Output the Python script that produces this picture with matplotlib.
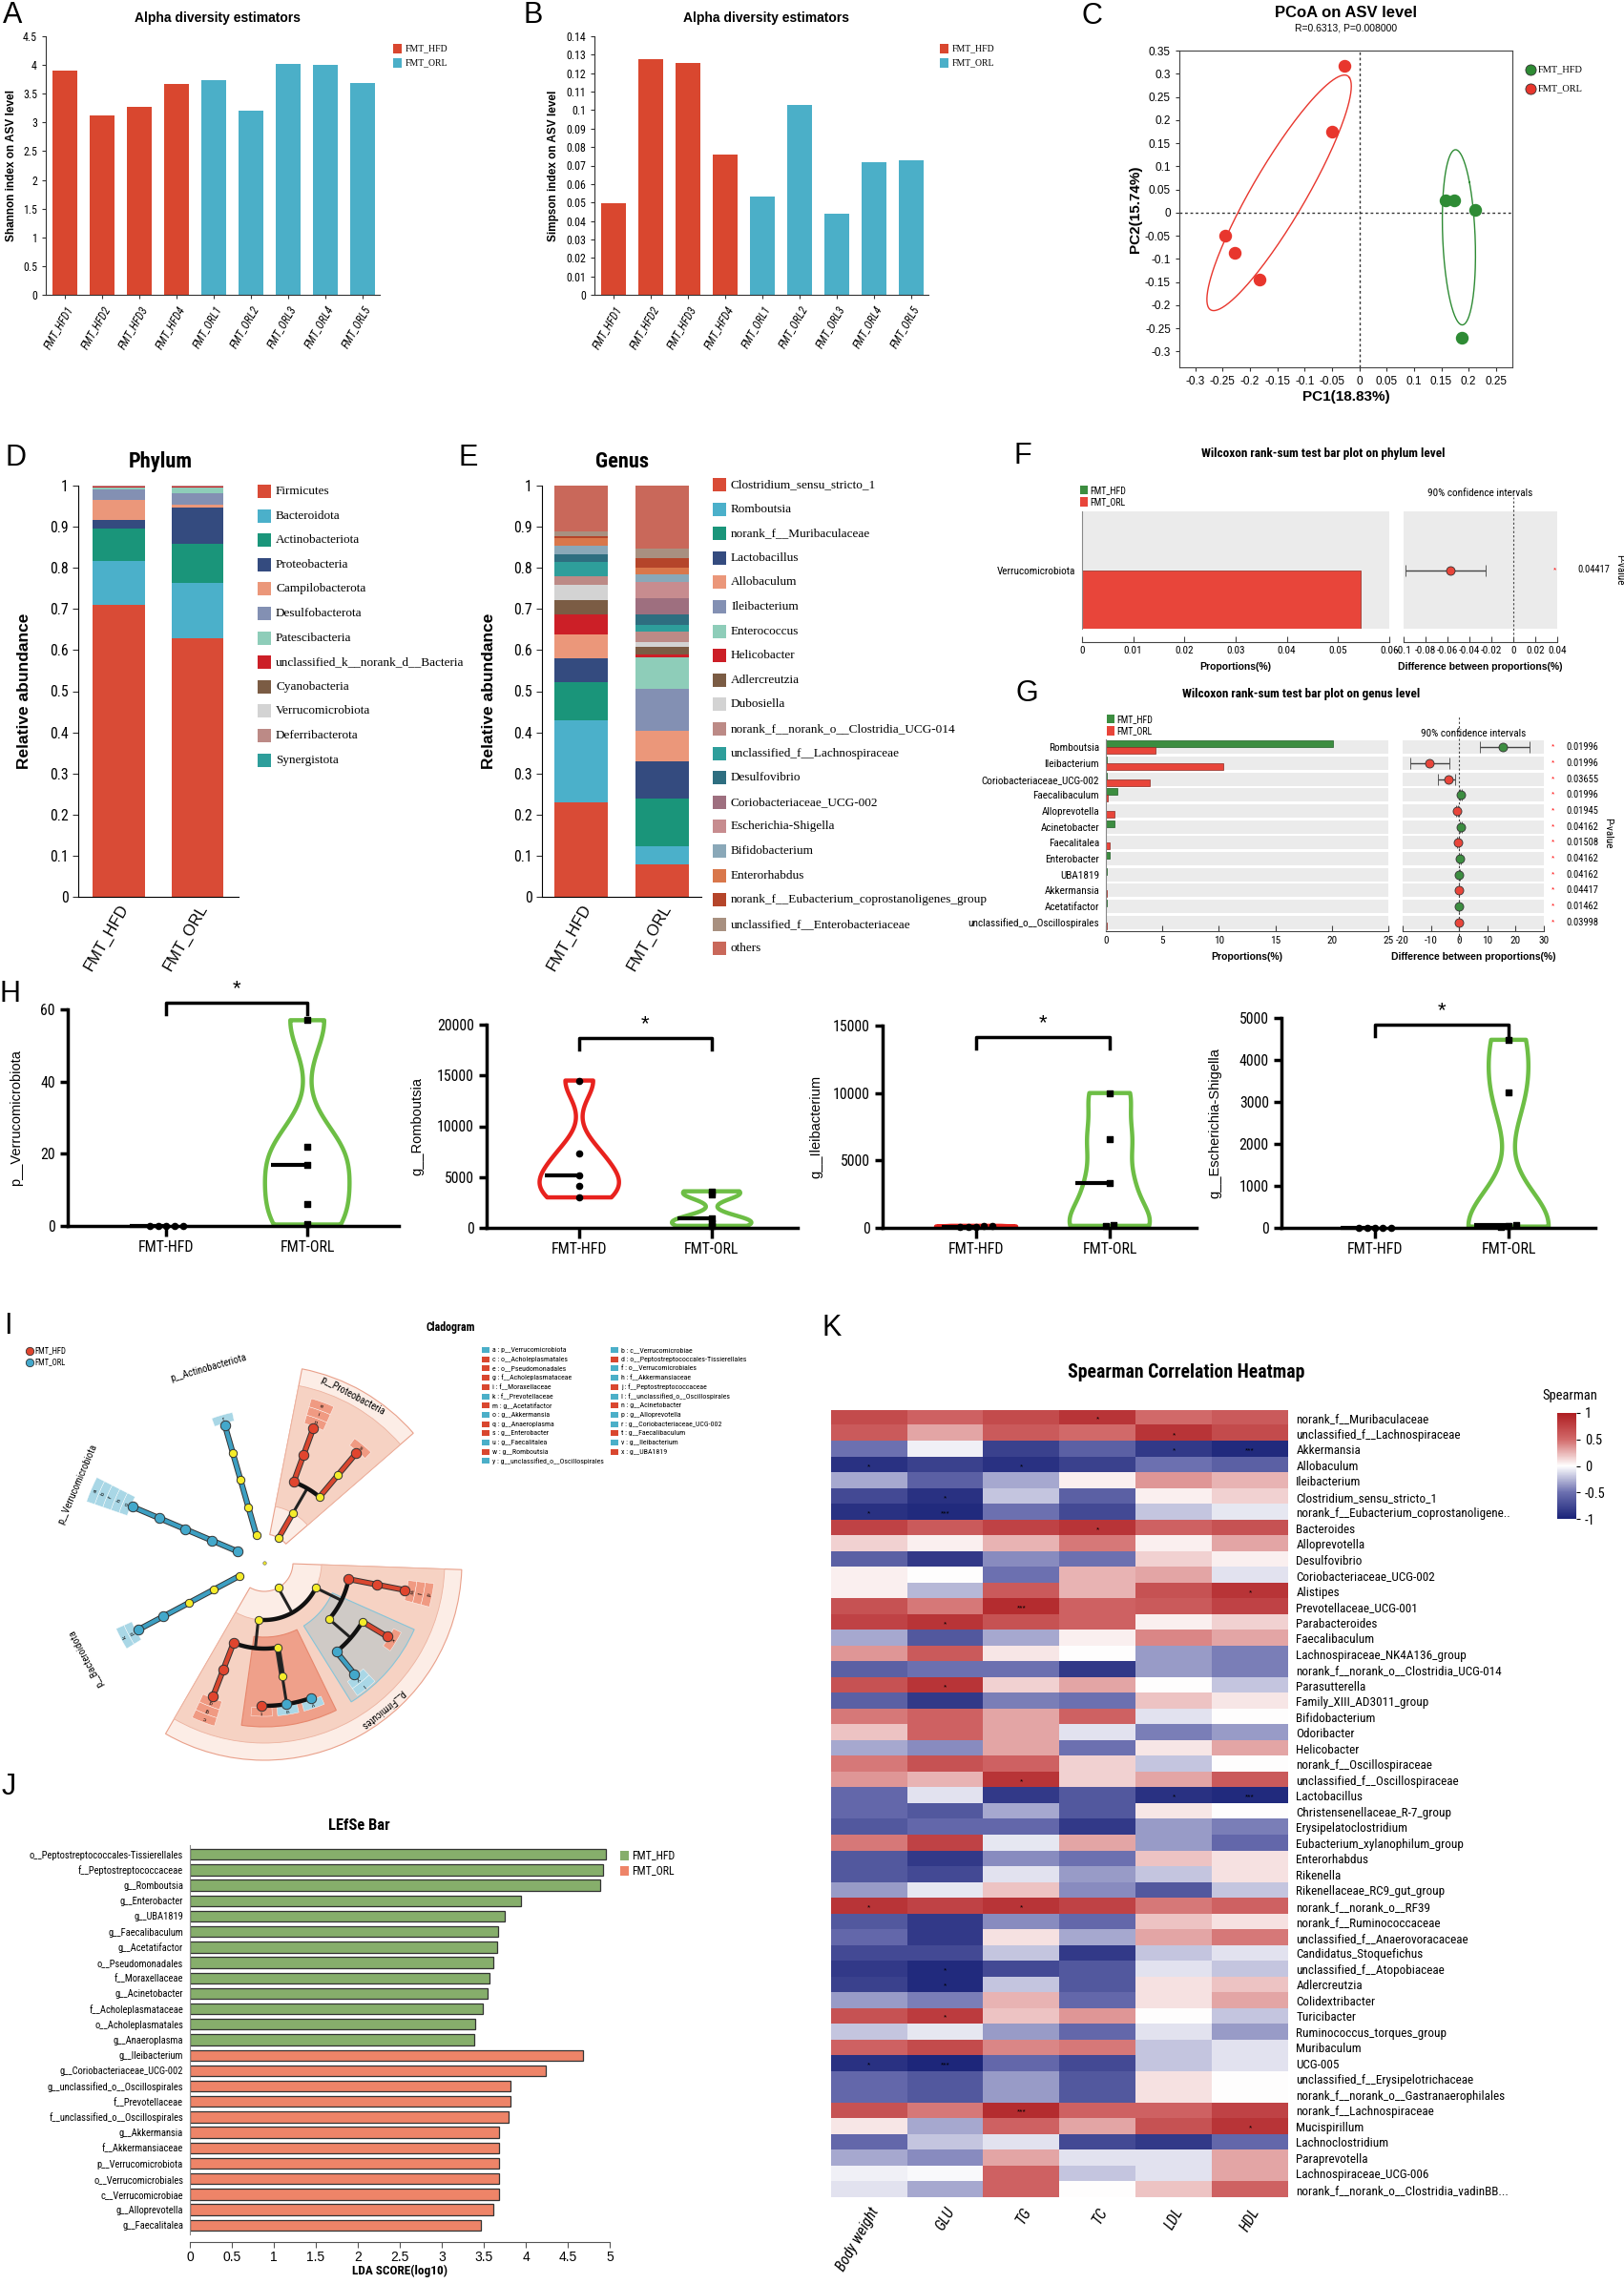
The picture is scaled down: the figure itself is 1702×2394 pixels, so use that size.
import numpy as np
import matplotlib
matplotlib.use("Agg")
import matplotlib.pyplot as plt
from matplotlib import font_manager, transforms
from matplotlib.patches import Rectangle, Wedge
from matplotlib.colors import LinearSegmentedColormap
from matplotlib.lines import Line2D
from matplotlib.ticker import FuncFormatter

# ---------------- fonts ----------------
flist = font_manager.fontManager.ttflist
fnames = {f.name for f in flist}
SANS = "Liberation Sans" if "Liberation Sans" in fnames else "DejaVu Sans"
SERIF = "Liberation Serif" if "Liberation Serif" in fnames else "DejaVu Serif"
if "Liberation Sans Narrow" in fnames:
    NARROW, NSTRETCH, NSCALE = "Liberation Sans Narrow", "normal", 1.0
elif "Roboto Condensed" in fnames:
    NARROW, NSTRETCH, NSCALE = "Roboto Condensed", "normal", 0.95
elif "DejaVu Sans Condensed" in fnames:
    NARROW, NSTRETCH, NSCALE = "DejaVu Sans Condensed", "normal", 0.88
elif any(f.name == "DejaVu Sans" and "condensed" in str(f.stretch) for f in flist):
    NARROW, NSTRETCH, NSCALE = "DejaVu Sans", "condensed", 0.88
else:
    NARROW, NSTRETCH, NSCALE = SANS, "normal", 0.84
plt.rcParams["font.family"] = SANS
plt.rcParams["axes.unicode_minus"] = False


def nk(size):
    return dict(family=NARROW, stretch=NSTRETCH, fontsize=size * NSCALE)


def narrow_labels(texts, size):
    for t in texts:
        t.set_family(NARROW)
        t.set_stretch(NSTRETCH)
        t.set_fontsize(size * NSCALE)


# ---------------- data ----------------
SAMPLES = ["FMT_HFD1", "FMT_HFD2", "FMT_HFD3", "FMT_HFD4",
           "FMT_ORL1", "FMT_ORL2", "FMT_ORL3", "FMT_ORL4", "FMT_ORL5"]
SHANNON = [3.91, 3.12, 3.27, 3.67, 3.74, 3.20, 4.02, 4.01, 3.69]
SIMPSON = [0.0495, 0.1275, 0.1256, 0.0758, 0.053, 0.103, 0.044, 0.072, 0.073]

PCOA_HFD_X = [0.157, 0.173, 0.212, 0.187]
PCOA_HFD_Y = [0.027, 0.026, 0.005, -0.271]
PCOA_ORL_X = [-0.027, -0.050, -0.245, -0.228, -0.183]
PCOA_ORL_Y = [0.318, 0.175, -0.049, -0.086, -0.144]

PHYLA = ["Firmicutes", "Bacteroidota", "Actinobacteriota", "Proteobacteria",
         "Campilobacterota", "Desulfobacterota", "Patescibacteria",
         "unclassified_k__norank_d__Bacteria", "Cyanobacteria",
         "Verrucomicrobiota", "Deferribacterota", "Synergistota"]
PHYLA_HFD = [0.710, 0.107, 0.079, 0.020, 0.049, 0.025, 0.006, 0.001, 0.001, 0.0, 0.001, 0.001]
PHYLA_ORL = [0.629, 0.134, 0.095, 0.089, 0.006, 0.028, 0.015, 0.001, 0.001, 0.0005, 0.001, 0.0005]

GENERA = ["Clostridium_sensu_stricto_1", "Romboutsia", "norank_f__Muribaculaceae",
          "Lactobacillus", "Allobaculum", "Ileibacterium", "Enterococcus",
          "Helicobacter", "Adlercreutzia", "Dubosiella",
          "norank_f__norank_o__Clostridia_UCG-014", "unclassified_f__Lachnospiraceae",
          "Desulfovibrio", "Coriobacteriaceae_UCG-002", "Escherichia-Shigella",
          "Bifidobacterium", "Enterorhabdus",
          "norank_f__Eubacterium_coprostanoligenes_group",
          "unclassified_f__Enterobacteriaceae", "others"]
GENERA_HFD = [0.229, 0.201, 0.091, 0.059, 0.058, 0.0, 0.0, 0.049, 0.034, 0.037,
              0.022, 0.034, 0.020, 0.0, 0.0, 0.020, 0.018, 0.006, 0.011, 0.111]
GENERA_ORL = [0.080, 0.043, 0.115, 0.092, 0.073, 0.103, 0.076, 0.007, 0.019, 0.011,
              0.026, 0.016, 0.026, 0.039, 0.039, 0.020, 0.015, 0.024, 0.023, 0.153]

F_TAXA = ["Verrucomicrobiota"]
F_HFD = [0.0]
F_ORL = [0.0545]
F_DIFF = [-0.0577]
F_LO = [-0.098]
F_HI = [-0.025]
F_PVAL = ["0.04417"]

G_TAXA = ["Romboutsia", "Ileibacterium", "Coriobacteriaceae_UCG-002", "Faecalibaculum",
          "Alloprevotella", "Acinetobacter", "Faecalitalea", "Enterobacter", "UBA1819",
          "Akkermansia", "Acetatifactor", "unclassified_o__Oscillospirales"]
G_HFD = [20.1, 0.05, 0.05, 1.0, 0.0, 0.72, 0.0, 0.3, 0.1, 0.0, 0.05, 0.0]
G_ORL = [4.4, 10.35, 3.9, 0.2, 0.73, 0.02, 0.31, 0.0, 0.0, 0.06, 0.0, 0.05]
G_DIFF = [15.6, -10.4, -3.9, 0.7, -0.8, 0.7, -0.4, 0.3, 0.1, -0.06, 0.05, -0.05]
G_LO = [7.3, -17.3, -7.5, 0.4, -1.2, 0.4, -0.7, 0.1, 0.0, -0.1, 0.0, -0.1]
G_HI = [24.9, -3.5, -1.4, 1.0, -0.4, 1.0, -0.1, 0.5, 0.2, 0.0, 0.1, 0.0]
G_PVAL = ["0.01996", "0.01996", "0.03655", "0.01996", "0.01945", "0.04162",
          "0.01508", "0.04162", "0.04162", "0.04417", "0.01462", "0.03998"]

VIOLIN_LABELS = ["p__Verrucomicrobiota", "g__Romboutsia", "g__Ileibacterium", "g__Escherichia-Shigella"]
VERRU_HFD = [0, 0, 0, 0, 0]
VERRU_ORL = [57, 22, 17, 6, 0.4]
ROMB_HFD = [14500, 7300, 5200, 4100, 3000]
ROMB_ORL = [3600, 3300, 900, 500, 200]
ILEI_HFD = [40, 80, 100, 120, 150]
ILEI_ORL = [10000, 6600, 3300, 200, 150]
ESCH_HFD = [0, 0, 0, 0, 0]
ESCH_ORL = [4480, 3230, 70, 50, 30]
GROUP_TICKS = ["FMT-HFD", "FMT-ORL"]

LEFSE_CODES = [
    ("a", "p__Verrucomicrobiota", "ORL"), ("b", "c__Verrucomicrobiae", "ORL"),
    ("c", "o__Acholeplasmatales", "HFD"), ("d", "o__Peptostreptococcales-Tissierellales", "HFD"),
    ("e", "o__Pseudomonadales", "HFD"), ("f", "o__Verrucomicrobiales", "ORL"),
    ("g", "f__Acholeplasmataceae", "HFD"), ("h", "f__Akkermansiaceae", "ORL"),
    ("i", "f__Moraxellaceae", "HFD"), ("j", "f__Peptostreptococcaceae", "HFD"),
    ("k", "f__Prevotellaceae", "ORL"), ("l", "f__unclassified_o__Oscillospirales", "ORL"),
    ("m", "g__Acetatifactor", "HFD"), ("n", "g__Acinetobacter", "HFD"),
    ("o", "g__Akkermansia", "ORL"), ("p", "g__Alloprevotella", "ORL"),
    ("q", "g__Anaeroplasma", "HFD"), ("r", "g__Coriobacteriaceae_UCG-002", "ORL"),
    ("s", "g__Enterobacter", "HFD"), ("t", "g__Faecalibaculum", "HFD"),
    ("u", "g__Faecalitalea", "ORL"), ("v", "g__Ileibacterium", "ORL"),
    ("w", "g__Romboutsia", "HFD"), ("x", "g__UBA1819", "HFD"),
    ("y", "g__unclassified_o__Oscillospirales", "ORL"),
]
CLADE_TREE = {
    "p__Verrucomicrobiota": {"c__Verrucomicrobiae": {"o__Verrucomicrobiales": {
        "f__Akkermansiaceae": {"g__Akkermansia": {}}}}},
    "p__Actinobacteriota": {"c__Coriobacteriia": {"o__Coriobacteriales": {
        "f__Coriobacteriaceae": {"g__Coriobacteriaceae_UCG-002": {}}}}},
    "p__Proteobacteria": {"c__Gammaproteobacteria": {
        "o__Pseudomonadales": {"f__Moraxellaceae": {"g__Acinetobacter": {}}},
        "o__Enterobacterales": {"f__Enterobacteriaceae": {"g__Enterobacter": {}}}}},
    "p__Firmicutes": {
        "c__Clostridia": {
            "o__Peptostreptococcales-Tissierellales": {"f__Peptostreptococcaceae": {"g__Romboutsia": {}}},
            "o__Oscillospirales": {"f__Ruminococcaceae": {"g__UBA1819": {}},
                                   "f__unclassified_o__Oscillospirales": {"g__unclassified_o__Oscillospirales": {}}}},
        "c__Bacilli": {
            "o__Erysipelotrichales": {"f__Erysipelotrichaceae": {
                "g__Ileibacterium": {}, "g__Faecalitalea": {}, "g__Faecalibaculum": {}}},
            "o__Acholeplasmatales": {"f__Acholeplasmataceae": {"g__Anaeroplasma": {}}}}},
    "p__Bacteroidota": {"c__Bacteroidia": {"o__Bacteroidales": {
        "f__Prevotellaceae": {"g__Alloprevotella": {}}}}},
}

LEFSE_HFD_TAXA = ["o__Peptostreptococcales-Tissierellales", "f__Peptostreptococcaceae", "g__Romboutsia",
                  "g__Enterobacter", "g__UBA1819", "g__Faecalibaculum", "g__Acetatifactor",
                  "o__Pseudomonadales", "f__Moraxellaceae", "g__Acinetobacter",
                  "f__Acholeplasmataceae", "o__Acholeplasmatales", "g__Anaeroplasma"]
LEFSE_HFD_LDA = [4.95, 4.92, 4.89, 3.94, 3.75, 3.67, 3.66, 3.61, 3.57, 3.55, 3.49, 3.40, 3.39]
LEFSE_ORL_TAXA = ["g__Ileibacterium", "g__Coriobacteriaceae_UCG-002", "g__unclassified_o__Oscillospirales",
                  "f__Prevotellaceae", "f__unclassified_o__Oscillospirales", "g__Akkermansia",
                  "f__Akkermansiaceae", "p__Verrucomicrobiota", "o__Verrucomicrobiales",
                  "c__Verrucomicrobiae", "g__Alloprevotella", "g__Faecalitalea"]
LEFSE_ORL_LDA = [4.68, 4.24, 3.82, 3.82, 3.79, 3.68, 3.68, 3.68, 3.68, 3.68, 3.61, 3.47]

HEAT_VARS = ["Body weight", "GLU", "TG", "TC", "LDL", "HDL"]
HEAT_TAXA = ["norank_f__Muribaculaceae", "unclassified_f__Lachnospiraceae", "Akkermansia", "Allobaculum",
             "Ileibacterium", "Clostridium_sensu_stricto_1", "norank_f__Eubacterium_coprostanoligene..",
             "Bacteroides", "Alloprevotella", "Desulfovibrio", "Coriobacteriaceae_UCG-002", "Alistipes",
             "Prevotellaceae_UCG-001", "Parabacteroides", "Faecalibaculum", "Lachnospiraceae_NK4A136_group",
             "norank_f__norank_o__Clostridia_UCG-014", "Parasutterella", "Family_XIII_AD3011_group",
             "Bifidobacterium", "Odoribacter", "Helicobacter", "norank_f__Oscillospiraceae",
             "unclassified_f__Oscillospiraceae", "Lactobacillus", "Christensenellaceae_R-7_group",
             "Erysipelatoclostridium", "Eubacterium_xylanophilum_group", "Enterorhabdus", "Rikenella",
             "Rikenellaceae_RC9_gut_group", "norank_f__norank_o__RF39", "norank_f__Ruminococcaceae",
             "unclassified_f__Anaerovoracaceae", "Candidatus_Stoquefichus", "unclassified_f__Atopobiaceae",
             "Adlercreutzia", "Colidextribacter", "Turicibacter", "Ruminococcus_torques_group",
             "Muribaculum", "UCG-005", "unclassified_f__Erysipelotrichaceae",
             "norank_f__norank_o__Gastranaerophilales", "norank_f__Lachnospiraceae", "Mucispirillum",
             "Lachnoclostridium", "Paraprevotella", "Lachnospiraceae_UCG-006",
             "norank_f__norank_o__Clostridia_vadinBB..."]
HEAT_RHO = [
    [0.70, 0.55, 0.70, 0.85, 0.50, 0.60],
    [0.60, 0.30, 0.60, 0.50, 0.85, 0.70],
    [-0.50, -0.05, -0.80, -0.60, -0.85, -0.95],
    [-0.90, -0.80, -0.90, -0.80, -0.50, -0.60],
    [-0.30, -0.60, -0.30, 0.05, 0.35, 0.25],
    [-0.75, -0.90, -0.20, -0.60, 0.05, 0.15],
    [-0.90, -0.95, -0.50, -0.75, -0.20, -0.08],
    [0.75, 0.60, 0.75, 0.85, 0.55, 0.65],
    [0.15, 0.05, 0.25, 0.45, 0.05, 0.30],
    [-0.60, -0.85, -0.40, -0.50, 0.15, 0.05],
    [0.05, 0.00, -0.50, 0.25, 0.30, -0.10],
    [0.05, -0.25, 0.60, 0.25, 0.65, 0.85],
    [0.65, 0.45, 0.90, 0.55, 0.60, 0.75],
    [0.75, 0.85, 0.65, 0.55, 0.05, 0.15],
    [-0.30, -0.65, -0.30, 0.05, 0.40, 0.30],
    [0.35, 0.60, 0.08, 0.00, -0.35, -0.45],
    [-0.60, -0.50, -0.50, -0.85, -0.35, -0.45],
    [0.65, 0.85, 0.15, 0.30, 0.00, -0.20],
    [-0.60, -0.85, -0.45, -0.50, 0.20, 0.08],
    [0.45, 0.55, 0.30, 0.55, -0.10, 0.00],
    [0.20, 0.55, 0.30, -0.10, -0.45, -0.35],
    [-0.30, -0.40, 0.30, -0.50, 0.08, 0.30],
    [0.45, 0.65, 0.55, 0.15, -0.20, 0.00],
    [0.35, 0.25, 0.85, 0.15, 0.30, 0.60],
    [-0.55, -0.10, -0.85, -0.65, -0.90, -0.95],
    [-0.55, -0.65, -0.30, -0.65, 0.08, 0.00],
    [-0.65, -0.55, -0.55, -0.85, -0.35, -0.45],
    [0.45, 0.75, -0.08, 0.30, -0.35, -0.55],
    [-0.65, -0.85, -0.40, -0.50, 0.20, 0.10],
    [-0.65, -0.75, -0.10, -0.35, -0.20, 0.10],
    [-0.35, -0.08, 0.20, -0.40, -0.65, -0.20],
    [0.85, 0.75, 0.85, 0.75, 0.45, 0.55],
    [-0.65, -0.85, -0.40, -0.55, 0.20, 0.10],
    [-0.55, -0.85, 0.10, -0.30, 0.30, 0.45],
    [-0.75, -0.75, -0.20, -0.85, -0.20, -0.10],
    [-0.85, -0.95, -0.75, -0.65, -0.10, -0.20],
    [-0.80, -0.95, -0.20, -0.65, 0.10, 0.20],
    [-0.35, -0.45, 0.25, -0.55, 0.10, 0.30],
    [0.65, 0.80, 0.20, 0.35, 0.00, -0.20],
    [-0.20, -0.08, -0.35, -0.55, -0.10, -0.35],
    [0.55, 0.70, 0.40, 0.45, -0.20, -0.10],
    [-0.90, -0.97, -0.55, -0.75, -0.20, -0.10],
    [-0.55, -0.65, -0.35, -0.65, 0.10, 0.00],
    [-0.55, -0.65, -0.35, -0.65, 0.10, 0.00],
    [0.65, 0.45, 0.90, 0.55, 0.55, 0.75],
    [0.08, -0.30, 0.55, 0.30, 0.65, 0.85],
    [-0.55, -0.20, -0.10, -0.75, -0.85, -0.55],
    [-0.30, -0.40, 0.30, -0.10, -0.10, 0.30],
    [-0.05, -0.02, 0.55, -0.20, -0.10, 0.30],
    [-0.10, -0.30, 0.55, 0.00, 0.20, 0.55],
]
HEAT_SIG = [
    ("norank_f__Muribaculaceae", "TC", "*"), ("unclassified_f__Lachnospiraceae", "LDL", "*"),
    ("Akkermansia", "LDL", "*"), ("Akkermansia", "HDL", "***"),
    ("Allobaculum", "Body weight", "*"), ("Allobaculum", "TG", "*"),
    ("Clostridium_sensu_stricto_1", "GLU", "*"),
    ("norank_f__Eubacterium_coprostanoligene..", "Body weight", "*"),
    ("norank_f__Eubacterium_coprostanoligene..", "GLU", "***"),
    ("Bacteroides", "TC", "*"), ("Alistipes", "HDL", "*"), ("Prevotellaceae_UCG-001", "TG", "***"),
    ("Parabacteroides", "GLU", "*"), ("Parasutterella", "GLU", "*"),
    ("unclassified_f__Oscillospiraceae", "TG", "*"), ("Lactobacillus", "LDL", "*"),
    ("Lactobacillus", "HDL", "***"), ("norank_f__norank_o__RF39", "Body weight", "*"),
    ("norank_f__norank_o__RF39", "TG", "*"), ("unclassified_f__Atopobiaceae", "GLU", "*"),
    ("Adlercreutzia", "GLU", "*"), ("Turicibacter", "GLU", "*"), ("UCG-005", "Body weight", "*"),
    ("UCG-005", "GLU", "***"), ("norank_f__Lachnospiraceae", "TG", "***"), ("Mucispirillum", "HDL", "*"),
]

# ---------------- styles ----------------
C_RED = "#D9472F"
C_BLUE = "#4BAFC8"
C_PC_RED = "#E8362D"
C_PC_GREEN = "#2E8B34"
C_ST_GREEN = "#3C8D40"
C_ST_RED = "#E8453A"
C_V_RED = "#E8221E"
C_V_GREEN = "#6DBE45"
C_LEF_GREEN = "#86AE6B"
C_LEF_RED = "#EE8468"
PHYLA_COLORS = ["#D94B36", "#4BB0CA", "#1A957A", "#344B7F", "#EB977A", "#8390B3",
                "#8ECDB9", "#CC1F27", "#7B5C44", "#D3D3D3", "#BC8A86", "#2E9E9B"]
GENERA_COLORS = ["#D94B36", "#4BB0CA", "#1A957A", "#344B7F", "#EB977A", "#8390B3",
                 "#8ECDB9", "#CC1F27", "#7B5C44", "#D3D3D3", "#BC8A86", "#2E9E9B",
                 "#2E6E80", "#9E6F7F", "#C78C8F", "#8AA8B8", "#D9774B", "#B5452A",
                 "#A89080", "#C9685A"]

W, H = 1702, 2394
fig = plt.figure(figsize=(W / 100, H / 100), dpi=100)


def ax_px(x0, y0, x1, y1):
    return fig.add_axes([x0 / W, 1 - y1 / H, (x1 - x0) / W, (y1 - y0) / H])


def ftext(x, y, s, **kw):
    kw.setdefault("ha", "center")
    kw.setdefault("va", "center")
    return fig.text(x / W, 1 - y / H, s, **kw)


def frect(x, y, w, h, color):
    fig.add_artist(Rectangle((x / W, 1 - (y + h) / H), w / W, h / H,
                             transform=fig.transFigure, facecolor=color, lw=0))


def fdot(x, y, color, ms):
    fig.add_artist(Line2D([x / W], [1 - y / H], marker="o", ms=ms, mfc=color,
                          mec="#333333", mew=0.6, transform=fig.transFigure))


def num(v, pos=None):
    v = round(float(v), 6)
    return "0" if v == 0 else f"{v:g}"


# panel letters
for lab, x, y in [("A", 13, 16), ("B", 559, 16), ("C", 1144, 17), ("D", 17, 480),
                  ("E", 491, 480), ("F", 1072, 478), ("G", 1076, 727), ("H", 10, 1042),
                  ("I", 8, 1390), ("J", 9, 1873), ("K", 872, 1392)]:
    ftext(x, y, lab, fontsize=22)


# ---------------- A / B ----------------
def alpha_panel(rect, values, ymax, step, ylabel, lab_x, leg_x):
    ax = ax_px(*rect)
    cols = [C_RED if s.startswith("FMT_HFD") else C_BLUE for s in SAMPLES]
    ax.bar(np.arange(len(SAMPLES)), values, width=0.68, color=cols)
    ax.set_xlim(-0.51, len(SAMPLES) - 0.54)
    ax.set_ylim(0, ymax)
    ax.set_yticks(np.arange(0, ymax + step / 2, step))
    ax.yaxis.set_major_formatter(FuncFormatter(num))
    ax.set_xticks(np.arange(len(SAMPLES)))
    ax.set_xticklabels(SAMPLES, rotation=60, ha="right", rotation_mode="anchor", style="italic")
    ax.tick_params(length=3, width=0.8, color="#333333")
    narrow_labels(ax.get_xticklabels(), 9)
    narrow_labels(ax.get_yticklabels(), 9)
    for s in ("top", "right"):
        ax.spines[s].set_visible(False)
    ax.spines["left"].set_color("#333333")
    ax.spines["bottom"].set_color("#333333")
    ax.set_ylabel(ylabel, fontsize=8.5, weight="bold")
    ax.yaxis.set_label_coords(lab_x, 0.5)
    ftext((rect[0] + rect[2]) / 2 + 5, 19, "Alpha diversity estimators", fontsize=10, weight="bold")
    for k, (lab, c) in enumerate([("FMT_HFD", C_RED), ("FMT_ORL", C_BLUE)]):
        frect(leg_x, 46 + k * 15, 9, 10, c)
        ftext(leg_x + 13, 51 + k * 15, lab, ha="left", family=SERIF, fontsize=7)


alpha_panel((48, 38, 398, 309), SHANNON, 4.5, 0.5, "Shannon index on ASV level", -0.085, 412)
alpha_panel((623, 38, 973, 309), SIMPSON, 0.14, 0.01, "Simpson index on ASV level", -0.105, 985)


# ---------------- C ----------------
def conf_ellipse(ax, x, y, n_std, color):
    x, y = np.asarray(x), np.asarray(y)
    cov = np.cov(x, y)
    p = cov[0, 1] / np.sqrt(cov[0, 0] * cov[1, 1])
    t = np.linspace(0, 2 * np.pi, 200)
    u = np.sqrt(1 + p) * np.cos(t)
    v = np.sqrt(1 - p) * np.sin(t)
    ex = (u - v) / np.sqrt(2) * np.sqrt(cov[0, 0]) * n_std + x.mean()
    ey = (u + v) / np.sqrt(2) * np.sqrt(cov[1, 1]) * n_std + y.mean()
    ax.plot(ex, ey, color=color, lw=1.0)


axc = ax_px(1236, 53, 1585, 385)
axc.axvline(0, color="#333333", ls=(0, (2, 2)), lw=1)
axc.axhline(0, color="#333333", ls=(0, (2, 2)), lw=1)
conf_ellipse(axc, PCOA_ORL_X, PCOA_ORL_Y, 1.3, C_PC_RED)
conf_ellipse(axc, PCOA_HFD_X, PCOA_HFD_Y, 1.3, C_PC_GREEN)
axc.scatter(PCOA_ORL_X, PCOA_ORL_Y, s=75, color=C_PC_RED, zorder=3)
axc.scatter(PCOA_HFD_X, PCOA_HFD_Y, s=75, color=C_PC_GREEN, zorder=3)
axc.set_xlim(-0.329, 0.28)
axc.set_ylim(-0.334, 0.35)
axc.set_xticks(np.arange(-0.3, 0.26, 0.05))
axc.set_yticks(np.arange(-0.3, 0.36, 0.05))
axc.xaxis.set_major_formatter(FuncFormatter(num))
axc.yaxis.set_major_formatter(FuncFormatter(num))
axc.tick_params(labelsize=8.5, length=3, color="#333333")
for s in axc.spines.values():
    s.set_color("#444444")
axc.set_xlabel("PC1(18.83%)", fontsize=11, weight="bold", labelpad=2)
axc.set_ylabel("PC2(15.74%)", fontsize=11, weight="bold", labelpad=2)
ftext(1411, 14, "PCoA on ASV level", fontsize=12, weight="bold")
ftext(1411, 30, "R=0.6313, P=0.008000", fontsize=7.5)
for k, (lab, c) in enumerate([("FMT_HFD", C_PC_GREEN), ("FMT_ORL", C_PC_RED)]):
    fdot(1604, 73 + k * 20, c, 8)
    ftext(1612, 73 + k * 20, lab, ha="left", family=SERIF, fontsize=7.5)


# ---------------- D / E ----------------
def stack_panel(rect, names_, hfd, orl, colors, title, tx, leg_x, leg_y0, xlim):
    ax = ax_px(*rect)
    bottoms = np.zeros(2)
    for a, b, c in zip(hfd, orl, colors):
        ax.bar([0, 1], [a, b], bottom=bottoms, width=0.66, color=c, lw=0)
        bottoms += [a, b]
    ax.set_xlim(*xlim)
    ax.set_ylim(0, 1)
    ax.set_yticks(np.arange(0, 1.01, 0.1))
    ax.yaxis.set_major_formatter(FuncFormatter(num))
    ax.set_xticks([0, 1])
    ax.set_xticklabels(["FMT_HFD", "FMT_ORL"], rotation=60, ha="right",
                       rotation_mode="anchor", fontsize=12)
    ax.tick_params(axis="y", length=4, color="#333333")
    ax.tick_params(axis="x", length=0, pad=4)
    narrow_labels(ax.get_yticklabels(), 12)
    for s in ("top", "right"):
        ax.spines[s].set_visible(False)
    ax.set_ylabel("Relative abundance", fontsize=12.5, weight="bold")
    ax.yaxis.set_label_coords(-0.29, 0.5)
    ftext(tx, 484, title, weight="bold", **nk(17))
    for k, (n, c) in enumerate(zip(names_, colors)):
        y = leg_y0 + k * 25.6
        frect(leg_x, y - 7, 14, 14, c)
        ftext(leg_x + 19, y, n, ha="left", family=SERIF, fontsize=9.5)


stack_panel((82, 509, 250, 940), PHYLA, PHYLA_HFD, PHYLA_ORL, PHYLA_COLORS, "Phylum",
            168, 270, 515, (-0.51, 1.52))
stack_panel((568, 509, 735, 940), GENERA, GENERA_HFD, GENERA_ORL, GENERA_COLORS, "Genus",
            652, 747, 508, (-0.49, 1.49))


# ---------------- F / G ----------------
def stamp_panel(lrect, rrect, taxa, hfd, orl, diff, lo, hi, pvals, lxlim, lxticks,
                rxlim, rxticks, half, offset, pv_x, star_x):
    n = len(taxa)
    axl = ax_px(*lrect)
    axr = ax_px(*rrect)
    y = np.arange(n)
    for ax in (axl, axr):
        ax.set_ylim(n - 0.5, -0.5)
        for i in range(n):
            ax.axhspan(i - half, i + half, color="#EBEBEB", lw=0, zorder=0)
        for s in ("top", "right"):
            ax.spines[s].set_visible(False)
        ax.spines["bottom"].set_position(("outward", offset))
        ax.spines["bottom"].set_color("#444444")
        ax.tick_params(axis="x", direction="in", length=4, color="#444444", pad=3)
        ax.set_facecolor("none")
    axl.barh(y - half / 2, hfd, height=half, color=C_ST_GREEN, edgecolor="#1E5E24", lw=0.5)
    axl.barh(y + half / 2, orl, height=half, color=C_ST_RED, edgecolor="#8E2A22", lw=0.5)
    axl.set_xlim(*lxlim)
    axl.set_xticks(lxticks)
    axl.xaxis.set_major_formatter(FuncFormatter(num))
    axl.set_yticks(y)
    axl.set_yticklabels(taxa)
    narrow_labels(axl.get_yticklabels(), 8.5)
    axl.tick_params(axis="y", length=0, pad=5)
    axl.spines["left"].set_color("#888888")
    axr.spines["left"].set_visible(False)
    axr.set_yticks([])
    axr.set_xlim(*rxlim)
    axr.set_xticks(rxticks)
    axr.xaxis.set_major_formatter(FuncFormatter(num))
    for ax in (axl, axr):
        narrow_labels(ax.get_xticklabels(), 8.5)
    tr = transforms.blended_transform_factory(axr.transData, axr.transAxes)
    axr.plot([0, 0], [-0.05, 1.12], color="#444444", ls=(0, (2, 2)), lw=0.8,
             transform=tr, clip_on=False, zorder=1)
    for i in range(n):
        col = C_ST_GREEN if diff[i] > 0 else C_ST_RED
        axr.errorbar(diff[i], i, xerr=[[diff[i] - lo[i]], [hi[i] - diff[i]]], fmt="o",
                     color=col, mec="#333333", mew=0.6, ms=6.5, ecolor="#444444",
                     elinewidth=1, capsize=4, zorder=3)
    tp = transforms.blended_transform_factory(fig.transFigure, axr.transData)
    for i, pv in enumerate(pvals):
        axr.text(star_x / W, i, "*", transform=tp, color="red", fontsize=6, ha="center", va="center")
        axr.text(pv_x / W, i, pv, transform=tp, ha="left", va="center", **nk(8))
    axl.set_xlabel("Proportions(%)", fontsize=7.5, weight="bold", labelpad=5)
    axr.set_xlabel("Difference between proportions(%)", fontsize=7.5, weight="bold", labelpad=5)


stamp_panel((1134, 536, 1456, 659), (1471, 536, 1632, 659), F_TAXA, F_HFD, F_ORL, F_DIFF,
            F_LO, F_HI, F_PVAL, (0, 0.06), np.arange(0, 0.061, 0.01), (-0.1, 0.04),
            np.arange(-0.1, 0.041, 0.02), 0.5, 10, 1653, 1629)
ftext(1387, 476, "Wilcoxon rank-sum test bar plot on phylum level", weight="bold", **nk(10))
ftext(1551, 517, "90% confidence intervals", **nk(8.5))
ftext(1697, 597, "P-value", rotation=-90, **nk(8.5))
for k, (lab, c) in enumerate([("FMT_HFD", C_ST_GREEN), ("FMT_ORL", C_ST_RED)]):
    frect(1132, 509 + k * 12.5, 8, 9, c)
    ftext(1142, 514 + k * 12.5, lab, ha="left", **nk(7.5))

stamp_panel((1159, 775, 1455, 975), (1470, 775, 1618, 975), G_TAXA, G_HFD, G_ORL, G_DIFF,
            G_LO, G_HI, G_PVAL, (0, 25), np.arange(0, 26, 5), (-20, 30),
            np.arange(-20, 31, 10), 0.42, 1, 1641, 1627)
ftext(1364, 727, "Wilcoxon rank-sum test bar plot on genus level", weight="bold", **nk(10))
ftext(1544, 769, "90% confidence intervals", **nk(8.5))
ftext(1685, 873, "P-value", rotation=-90, **nk(8.5))
for k, (lab, c) in enumerate([("FMT_HFD", C_ST_GREEN), ("FMT_ORL", C_ST_RED)]):
    frect(1160, 749 + k * 12.5, 8, 9, c)
    ftext(1170, 754 + k * 12.5, lab, ha="left", **nk(7.5))


# ---------------- H ----------------
def spread(vals, x0, tol, step=0.06):
    xs = np.full(len(vals), float(x0))
    idx = np.argsort(vals)
    clusters = [[idx[0]]]
    for k in idx[1:]:
        if vals[k] - vals[clusters[-1][-1]] <= tol:
            clusters[-1].append(k)
        else:
            clusters.append([k])
    for c in clusters:
        for j, k in enumerate(c):
            xs[k] = x0 + (j - (len(c) - 1) / 2) * step
    return xs


def violin_panel(rect, hfd, orl, ylabel, ymax, ystep, br_frac, lab_x):
    ax = ax_px(*rect)
    ax_h = rect[3] - rect[1]
    for i, (vals, col, mk) in enumerate([(hfd, C_V_RED, "o"), (orl, C_V_GREEN, "s")]):
        vals = np.asarray(vals, float)
        if np.ptp(vals) > 0:
            vp = ax.violinplot([vals], positions=[i], widths=0.6, showextrema=False, bw_method=0.38)
            for b in vp["bodies"]:
                b.set_facecolor("none")
                b.set_edgecolor(col)
                b.set_linewidth(3.2)
                b.set_alpha(1)
                b.set_clip_on(False)
        xs = spread(vals, i, ymax * 0.012)
        ax.scatter(xs, vals, marker=mk, s=20, color="black", zorder=4, clip_on=False)
        med = np.median(vals)
        ax.plot([i - 0.26, i + 0.02], [med, med], color="black", lw=3, zorder=4,
                solid_capstyle="butt", clip_on=False)
    ax.set_xlim(-0.70, 1.65)
    ax.set_ylim(0, ymax)
    ax.set_yticks(np.arange(0, ymax + 1e-9, ystep))
    ax.yaxis.set_major_formatter(FuncFormatter(num))
    ax.set_xticks([0, 1])
    ax.set_xticklabels(GROUP_TICKS)
    ax.tick_params(axis="y", length=6, width=2.5)
    ax.tick_params(axis="x", length=8, width=2.5, pad=3)
    narrow_labels(ax.get_yticklabels(), 12)
    narrow_labels(ax.get_xticklabels(), 12)
    for s in ("top", "right"):
        ax.spines[s].set_visible(False)
    for s in ("left", "bottom"):
        ax.spines[s].set_linewidth(2.5)
    ax.set_ylabel(ylabel, fontsize=10.5)
    ax.yaxis.set_label_coords(lab_x, 0.5)
    yb = ymax * br_frac
    drop = 12 * ymax / ax_h
    ax.plot([0, 0, 1, 1], [yb - drop, yb, yb, yb - drop], color="black", lw=2.5, clip_on=False)
    ax.text(0.5, yb + 4 * ymax / ax_h, "*", ha="center", va="bottom", fontsize=16, clip_on=False)


violin_panel((71, 1058, 418, 1285), VERRU_HFD, VERRU_ORL, VIOLIN_LABELS[0], 60, 20, 1.031, -0.134)
violin_panel((510, 1074, 836, 1287), ROMB_HFD, ROMB_ORL, VIOLIN_LABELS[1], 20000, 5000, 0.934, -0.20)
violin_panel((925, 1075, 1254, 1287), ILEI_HFD, ILEI_ORL, VIOLIN_LABELS[2], 15000, 5000, 0.943, -0.19)
violin_panel((1343, 1067, 1672, 1287), ESCH_HFD, ESCH_ORL, VIOLIN_LABELS[3], 5000, 1000, 0.968, -0.19)


# ---------------- I (cladogram) ----------------
STEP = 30
PHYLUM_START = {"p__Verrucomicrobiota": 157, "p__Actinobacteriota": 106,
                "p__Proteobacteria": 70, "p__Firmicutes": -11, "p__Bacteroidota": -152}
code_of = {t: (c, g) for c, t, g in LEFSE_CODES}
LINE_COL = {"HFD": "#D9472F", "ORL": "#3D9FC2"}
NODE_COL = {"HFD": "#E0452E", "ORL": "#43A8CB"}
BOX_COL = {"HFD": "#F09A82", "ORL": "#A9D7E6"}


def pol(a, r):
    t = np.deg2rad(a)
    return r * np.cos(t), r * np.sin(t)


def leaf_paths(tree, path):
    out = []
    for name, sub in tree.items():
        p = path + (name,)
        out += leaf_paths(sub, p) if sub else [p]
    return out


leaf_ang = {}
for phy in CLADE_TREE:
    paths = leaf_paths({phy: CLADE_TREE[phy]}, ())
    a = PHYLUM_START[phy]
    for k, p in enumerate(paths):
        if k:
            a -= 10 if p[:-1] == paths[k - 1][:-1] else 20
        leaf_ang[p] = a

node_ang, node_span, node_groups = {}, {}, {}


def layout(name, sub, path):
    p = path + (name,)
    g = {code_of[name][1]} if name in code_of else set()
    if sub:
        kids = [layout(k, s, p) for k, s in sub.items()]
        node_ang[p] = float(np.mean([node_ang[k] for k in kids]))
        node_span[p] = (min(node_span[k][0] for k in kids), max(node_span[k][1] for k in kids))
        for k in kids:
            g |= node_groups[k]
    else:
        node_ang[p] = leaf_ang[p]
        node_span[p] = (leaf_ang[p], leaf_ang[p])
    node_groups[p] = g
    return p


for phy, sub in CLADE_TREE.items():
    layout(phy, sub, ())

axi = ax_px(0, 1400, 560, 1880)
axi.set_xlim(-277, 283)
axi.set_ylim(-242, 238)
axi.axis("off")

R_OUT, R_RING, R_BOX = 207, 189, 152
for phy in CLADE_TREE:
    lo, hi = node_span[(phy,)]
    if hi > lo:
        axi.add_patch(Wedge((0, 0), R_OUT, lo - 9, hi + 9, width=R_OUT - STEP,
                            facecolor="#FCEDE6", edgecolor="#E9A08A", lw=0.8, zorder=0))
        axi.add_patch(Wedge((0, 0), R_RING, lo - 9, hi + 9, width=R_RING - 2 * STEP,
                            facecolor="#F6D2C3", edgecolor="#EDB29F", lw=0.6, zorder=0.1))
for p in node_ang:
    lo, hi = node_span[p]
    if len(p) == 3 and hi > lo:
        fam_blue = any(len(q) == 4 and q[:3] == p and q[-1] in code_of and code_of[q[-1]][1] == "ORL"
                       for q in node_ang)
        fc, ec = ("#CFCAC6", "#86C4D8") if fam_blue else ("#EFA08A", "#E7876D")
        axi.add_patch(Wedge((0, 0), R_BOX + 20, lo - 7, hi + 7, width=R_BOX + 20 - 3 * STEP + 12,
                            facecolor=fc, edgecolor=ec, lw=0.8, zorder=0.2))

for p in node_ang:
    name = p[-1]
    if name in code_of:
        letter, grp = code_of[name]
        lvl = len(p)
        lo, hi = node_span[p]
        r0 = R_BOX + (5 - lvl) * 9
        axi.add_patch(Wedge((0, 0), r0 + 9, lo - 4, hi + 4, width=9,
                            facecolor=BOX_COL[grp], edgecolor="white", lw=0.3, zorder=0.5))
        am = (lo + hi) / 2
        axi.text(*pol(am, r0 + 4.5), letter, fontsize=4.5, ha="center", va="center",
                 rotation=am - 90, zorder=0.6)


def thick(xs, ys, col):
    axi.plot(xs, ys, color="#333333", lw=4.4, solid_capstyle="round", zorder=3)
    axi.plot(xs, ys, color=col, lw=3.0, solid_capstyle="round", zorder=3.1)


def line_col(p):
    g = node_groups[p]
    return LINE_COL[next(iter(g))] if len(g) == 1 else "#222222"


def draw_node(name, sub, path, level):
    p = path + (name,)
    a, r = node_ang[p], STEP * level
    if sub:
        kids = [p + (k,) for k in sub]
        rc = r + STEP
        if len(kids) == 1:
            x0, y0 = pol(a, r)
            x1, y1 = pol(node_ang[kids[0]], rc)
            thick([x0, x1], [y0, y1], line_col(kids[0]))
        else:
            x0, y0 = pol(a, r)
            x1, y1 = pol(a, rc)
            axi.plot([x0, x1], [y0, y1], color="#222222", lw=2.2, zorder=3)
            angs = [node_ang[k] for k in kids]
            t = np.linspace(min(angs), max(angs), 80)
            axi.plot(*pol(t, rc), color="#111111", lw=3.2, zorder=3)
        for k, s in sub.items():
            draw_node(k, s, p, level + 1)
    grp = code_of[name][1] if name in code_of else None
    x, y = pol(a, r)
    axi.plot(x, y, "o", ms=7.5 if grp else 6, mfc=NODE_COL[grp] if grp else "#F5EC2A",
             mec="#333333", mew=0.7, zorder=5)


for phy, sub in CLADE_TREE.items():
    draw_node(phy, sub, (), 1)
axi.plot(0, 0, "o", ms=2.5, mfc="#F5EC2A", mec="#555555", mew=0.4, zorder=5)

for phy in CLADE_TREE:
    lo, hi = node_span[(phy,)]
    a = node_ang[(phy,)]
    r = (R_RING + R_OUT) / 2 if hi > lo else 212
    if hi > lo:
        a = lo + 0.6 * (hi - lo)
    axi.text(*pol(a, r), phy, ha="center", va="center", rotation=a - 90,
             rotation_mode="anchor", zorder=6, **nk(8))

ftext(472, 1392, "Cladogram", weight="bold", **nk(9))
for k, (lab, c) in enumerate([("FMT_HFD", NODE_COL["HFD"]), ("FMT_ORL", NODE_COL["ORL"])]):
    fdot(31, 1416 + k * 11.5, c, 6)
    ftext(36, 1416 + k * 11.5, lab, ha="left", **nk(6.5))
for k, (letter, taxon, grp) in enumerate(LEFSE_CODES):
    col, row = k % 2, k // 2
    x = 505 + col * 135
    y = 1415 + row * 9.7
    frect(x, y - 3, 8, 6, C_RED if grp == "HFD" else C_BLUE)
    ftext(x + 11, y, f"{letter} : {taxon}", ha="left", **nk(6))


# ---------------- J ----------------
lef_taxa = LEFSE_HFD_TAXA + LEFSE_ORL_TAXA
lef_lda = LEFSE_HFD_LDA + LEFSE_ORL_LDA
lef_col = [C_LEF_GREEN] * len(LEFSE_HFD_TAXA) + [C_LEF_RED] * len(LEFSE_ORL_TAXA)
axj = ax_px(199, 1934, 639, 2342)
yj = np.arange(len(lef_taxa))
axj.barh(yj, lef_lda, height=0.7, color=lef_col, edgecolor="#333333", lw=0.9)
axj.set_ylim(len(lef_taxa) - 0.4, -0.6)
axj.set_xlim(0, 5)
axj.set_xticks(np.arange(0, 5.01, 0.5))
axj.xaxis.set_major_formatter(FuncFormatter(num))
axj.set_yticks(yj)
axj.set_yticklabels(lef_taxa)
lab_size = min(9.0, 7.6 / NSCALE)
narrow_labels(axj.get_yticklabels(), lab_size)
axj.tick_params(axis="y", length=0, pad=5)
axj.tick_params(axis="x", length=4, color="#555555", pad=2)
narrow_labels(axj.get_xticklabels(), 9)
for s in ("top", "right"):
    axj.spines[s].set_visible(False)
axj.spines["bottom"].set_position(("outward", 6))
axj.spines["bottom"].set_color("#555555")
axj.spines["left"].set_color("#888888")
axj.set_xlabel("LDA SCORE(log10)", weight="bold", labelpad=1, **nk(10))
ftext(376, 1913, "LEfSe Bar", weight="bold", **nk(12.5))
for k, (lab, c) in enumerate([("FMT_HFD", C_LEF_GREEN), ("FMT_ORL", C_LEF_RED)]):
    frect(650, 1940 + k * 16, 9, 10, c)
    ftext(662, 1945 + k * 16, lab, ha="left", **nk(9))


# ---------------- K ----------------
cmap = LinearSegmentedColormap.from_list(
    "spear", ["#1A2378", "#6C70B0", "#FFFFFF", "#D26A6A", "#AE1E22"])
axk = ax_px(871, 1478, 1350, 2303)
im = axk.imshow(np.array(HEAT_RHO), cmap=cmap, vmin=-1, vmax=1, aspect="auto",
                interpolation="nearest")
axk.yaxis.tick_right()
axk.set_yticks(np.arange(len(HEAT_TAXA)))
axk.set_yticklabels(HEAT_TAXA)
narrow_labels(axk.get_yticklabels(), min(11, 9.5 / NSCALE))
axk.set_xticks(np.arange(len(HEAT_VARS)))
axk.set_xticklabels(HEAT_VARS, rotation=60, ha="right", rotation_mode="anchor", style="italic")
narrow_labels(axk.get_xticklabels(), 12)
axk.tick_params(length=0, pad=6)
for s in axk.spines.values():
    s.set_visible(False)
for taxon, var, mark in HEAT_SIG:
    axk.text(HEAT_VARS.index(var), HEAT_TAXA.index(taxon) + 0.1, mark, ha="center",
             va="center", fontsize=6)
ftext(1243, 1438, "Spearman Correlation Heatmap", weight="bold", **nk(15))
cax = ax_px(1632, 1481, 1652, 1592)
cb = fig.colorbar(im, cax=cax, ticks=[-1, -0.5, 0, 0.5, 1])
cb.ax.set_yticklabels(["-1", "-0.5", "0", "0.5", "1"])
narrow_labels(cb.ax.get_yticklabels(), 11)
cb.ax.tick_params(length=3)
cb.outline.set_visible(False)
ftext(1645, 1463, "Spearman", **nk(11))

fig.savefig("out.png", dpi=100)
